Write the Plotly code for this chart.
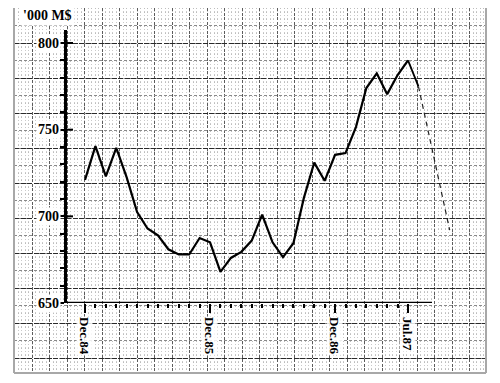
import plotly.graph_objects as go

# ---------------- data ----------------
months = list(range(32))  # 0 = Dec.84 ... 31 = Jul.87
values = [721, 740.5, 723, 739.5, 722.5, 702.5, 693, 689, 681, 678, 678, 687.5,
          685, 668, 676, 679.5, 686, 701, 685, 676.5, 684.5, 710.5, 731, 720.5,
          735.5, 736.5, 751.5, 774, 782.5, 770.5, 781.5, 790]
ext_months = [31, 32]          # solid continuation
ext_values = [790, 775]
proj_months = [32, 35]         # dashed projection
proj_values = [775, 692]
tick_months = [0, 12, 24, 31]
tick_labels = ["Dec.84", "Dec.85", "Dec.86", "Jul.87"]
y_ticks = [650, 700, 750, 800]
y_minor = [660, 670, 680, 690, 710, 720, 730, 740, 760, 770, 780, 790]
unit_label = "'000 M$"

W, H = 500, 383
FONT = "Liberation Serif"

def px_x(p):
    return p / W

def px_y(p):
    return 1 - p / H

fig = go.Figure()

# invisible anchors for the graph-paper subplots
fig.add_trace(go.Scatter(x=[14], y=[8], xaxis="x", yaxis="y", mode="markers",
                         marker=dict(opacity=0), hoverinfo="skip", showlegend=False))
fig.add_trace(go.Scatter(x=[14], y=[8], xaxis="x2", yaxis="y2", mode="markers",
                         marker=dict(opacity=0), hoverinfo="skip", showlegend=False))

# data
fig.add_trace(go.Scatter(x=months, y=values, xaxis="x3", yaxis="y3", mode="lines",
                         line=dict(color="black", width=2.2), showlegend=False))
fig.add_trace(go.Scatter(x=ext_months, y=ext_values, xaxis="x3", yaxis="y3", mode="lines",
                         line=dict(color="black", width=1.8), showlegend=False))
fig.add_trace(go.Scatter(x=proj_months, y=proj_values, xaxis="x3", yaxis="y3", mode="lines",
                         line=dict(color="#222", width=1.2, dash="5px,4px"), showlegend=False))

grid_xdom = [px_x(14), px_x(486)]
grid_ydom = [px_y(373), px_y(8)]

x_left = (67 - 85) / 10.42
x_right = (460 - 85) / 10.42
x_axis_end = (432 - 85) / 10.42
y_top = 650 + 273 / 1.7333

fig.update_layout(
    width=W, height=H, autosize=False,
    margin=dict(l=0, r=0, t=0, b=0),
    paper_bgcolor="white", plot_bgcolor="rgba(0,0,0,0)",
    showlegend=False,
    # fine graph paper
    xaxis=dict(domain=grid_xdom, range=[14, 486], anchor="y", showticklabels=False,
               ticks="", zeroline=False, showline=False,
               showgrid=True, tick0=67, dtick=17.5, gridcolor="#5c5c5c", gridwidth=1,
               griddash="3px,1.5px",
               minor=dict(showgrid=True, tick0=67, dtick=3.5, gridcolor="#bdbdbd",
                          gridwidth=1, griddash="1px,2.5px", ticks="")),
    yaxis=dict(domain=grid_ydom, range=[373, 8], anchor="x", showticklabels=False,
               ticks="", zeroline=False, showline=False,
               showgrid=True, tick0=43, dtick=17.5, gridcolor="#8a8a8a", gridwidth=1,
               griddash="3px,2px",
               minor=dict(showgrid=True, tick0=43, dtick=3.5, gridcolor="#cacaca",
                          gridwidth=1, griddash="1px,2.5px", ticks="")),
    # strong horizontal lines
    xaxis2=dict(domain=grid_xdom, range=[14, 486], anchor="y2", visible=False,
                showgrid=False),
    yaxis2=dict(domain=grid_ydom, range=[373, 8], anchor="x2", showticklabels=False,
                ticks="", zeroline=False, showline=False,
                showgrid=True, tick0=43, dtick=35, gridcolor="#2a2a2a", gridwidth=1.2,
                griddash="5px,1.5px"),
    # data axes
    xaxis3=dict(domain=[px_x(67), px_x(460)], range=[x_left, x_right], anchor="y3",
                showline=False, zeroline=False, showgrid=False,
                tickmode="array", tickvals=tick_months, showticklabels=False,
                ticks="outside", ticklen=9, tickwidth=2, tickcolor="black",
                minor=dict(tickmode="array", tickvals=months, ticks="outside",
                           ticklen=4, tickwidth=2, tickcolor="black", showgrid=False)),
    yaxis3=dict(domain=[px_y(303), px_y(30)], range=[650, y_top], anchor="x3",
                showline=True, linecolor="black", linewidth=2.5,
                zeroline=False, showgrid=False,
                tickmode="array", tickvals=y_ticks, showticklabels=False,
                ticks="outside", ticklen=6, tickwidth=2, tickcolor="black",
                minor=dict(tickmode="array", tickvals=y_minor, ticks="outside",
                           ticklen=4, tickwidth=1.5, tickcolor="black", showgrid=False)),
)

shapes = []
# x axis line
shapes.append(dict(type="line", xref="x3", yref="y3", x0=x_left, x1=x_axis_end,
                   y0=650, y1=650, line=dict(color="black", width=2.5)))
# inner half of the major y ticks (they cross the axis)
for v in y_ticks[1:]:
    shapes.append(dict(type="line", xref="x3", yref="y3", xsizemode="pixel",
                       xanchor=x_left, x0=0, x1=6, y0=v, y1=v,
                       line=dict(color="black", width=2)))
# gray border of the sheet
for (x0, y0, x1, y1) in [(14, 8, 14, 373), (14, 373, 486, 373), (486, 8, 486, 373)]:
    shapes.append(dict(type="line", xref="paper", yref="paper",
                       x0=px_x(x0), x1=px_x(x1), y0=px_y(y0), y1=px_y(y1),
                       line=dict(color="#a8a8a8", width=2)))
fig.update_layout(shapes=shapes)

lab_font = dict(family=FONT, size=14, color="black", weight="bold")

# value labels (pasted-up, on white patches)
for v in y_ticks:
    fig.add_annotation(text=str(v), xref="paper", yref="y3", x=px_x(61), y=v,
                       xanchor="right", yanchor="middle", showarrow=False,
                       font=lab_font, bgcolor="white", borderpad=1)
# month labels, rotated
for m, t in zip(tick_months, tick_labels):
    fig.add_annotation(text=t, xref="x3", yref="paper", x=m, y=px_y(316),
                       xanchor="center", yanchor="top", textangle=90, showarrow=False,
                       font=dict(family=FONT, size=13, color="black", weight="bold"),
                       bgcolor="rgba(255,255,255,0.85)", borderpad=0)

fig.add_annotation(text=unit_label, xref="paper", yref="paper",
                   x=px_x(47), y=px_y(16), xanchor="center", yanchor="middle",
                   showarrow=False,
                   font=dict(family=FONT, size=14, color="black", weight="bold"),
                   bgcolor="white", borderpad=2)

fig.write_html("out.html")
